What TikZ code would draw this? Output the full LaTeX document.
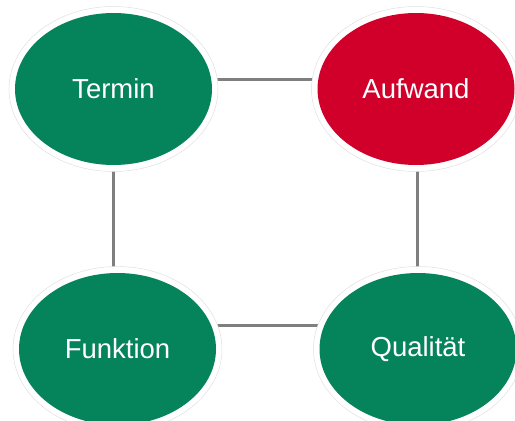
\documentclass[tikz,border=0pt]{standalone}
\usepackage{fontspec}
\setmainfont{Liberation Sans}
\usetikzlibrary{shapes.geometric,backgrounds,calc}
\definecolor{pgreen}{HTML}{05835B}
\definecolor{pred}{HTML}{D0002B}
\definecolor{lgray}{HTML}{7F7F7F}
\tikzset{
  ring/.style={ellipse, fill=white, draw=black!12, line width=0.5pt, inner sep=0pt, minimum width=209pt, minimum height=165pt},
  blob/.style={ellipse, fill=#1, draw=none, inner sep=0pt, minimum width=197pt, minimum height=152pt, text=white, font=\fontsize{27.5}{32}\selectfont},
  conn/.style={draw=lgray, line width=3pt}
}
\begin{document}
\begin{tikzpicture}[x=1pt,y=-1pt]
\useasboundingbox (0,0) rectangle (515,421);
\node[ring] (termin) at (113.5,89) {};
\node[blob=pgreen] (termint) at (termin.center) {Termin};
\node[ring] (aufwand) at (416,89) {};
\node[blob=pred] (aufwandt) at (aufwand.center) {Aufwand};
\node[ring] (funktion) at (117.5,349) {};
\node[blob=pgreen] (funktiont) at (funktion.center) {Funktion};
\node[ring] (qualitaet) at (418,349) {};
\node[blob=pgreen] (qualitaett) at (qualitaet.center) {Qualität};
\begin{scope}[on background layer]
\draw[conn] ($(termin.center)+(0,-10)$) -- ($(aufwand.center)+(0,-10)$);
\draw[conn] ($(funktion.center)+(0,-24)$) -- ($(qualitaet.center)+(0,-24)$);
\draw[conn] ($(termin.center)+(-0.5,0)$) -- ($(termin.center |- funktion.center)+(-0.5,0)$);
\draw[conn] ($(aufwand.center)+(1,0)$) -- ($(aufwand.center |- qualitaet.center)+(1,0)$);
\end{scope}
\end{tikzpicture}
\end{document}
